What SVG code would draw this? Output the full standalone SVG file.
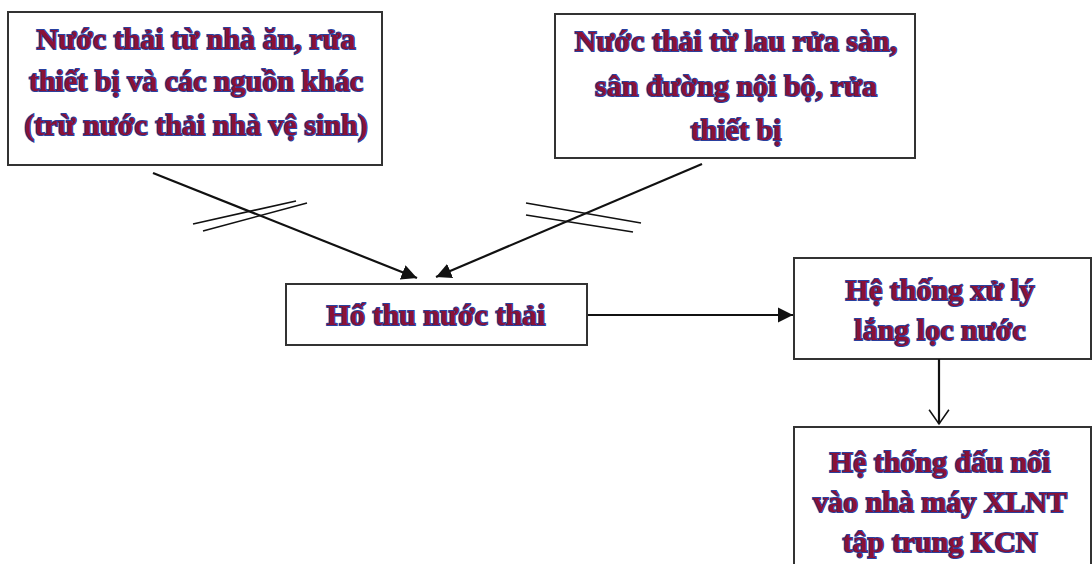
<svg xmlns="http://www.w3.org/2000/svg" width="1092" height="564" viewBox="0 0 1092 564">
<style>
.box{fill:#fff;stroke:#333;stroke-width:2}
.t{font-family:"Liberation Serif","Times New Roman",serif;font-weight:bold;font-size:30px;fill:#8a1236;stroke:#2a3f9e;stroke-width:2;paint-order:stroke;text-anchor:middle}
.c{stroke:#111;stroke-width:2.2;fill:none}
.tick{stroke:#111;stroke-width:1.6;fill:none}
</style>
<defs>
<marker id="ah" viewBox="0 0 10 10" refX="10" refY="5" markerWidth="7" markerHeight="7" orient="auto" markerUnits="strokeWidth">
<path d="M0,0 L10,5 L0,10 Z" fill="#111"/>
</marker>
<marker id="av" viewBox="0 0 10 10" refX="9" refY="5" markerWidth="10" markerHeight="10" orient="auto" markerUnits="strokeWidth">
<path d="M2.5,0.5 L9,5 L2.5,9.5" fill="none" stroke="#111" stroke-width="0.7"/>
</marker>
</defs>
<g id="n1">
<rect class="box" x="8" y="12" width="374" height="153"/>
<text class="t" x="196" y="49">Nước thải từ nhà ăn, rửa</text>
<text class="t" x="196" y="91">thiết bị và các nguồn khác</text>
<text class="t" x="196" y="135">(trừ nước thải nhà vệ sinh)</text>
</g>
<g id="n2">
<rect class="box" x="555" y="14" width="360" height="144"/>
<text class="t" x="736" y="51">Nước thải từ lau rửa sàn,</text>
<text class="t" x="736" y="96">sân đường nội bộ, rửa</text>
<text class="t" x="736" y="140">thiết bị</text>
</g>
<g id="n3">
<rect class="box" x="286" y="284" width="301" height="61"/>
<text class="t" x="436" y="325">Hố thu nước thải</text>
</g>
<g id="n4">
<rect class="box" x="794" y="258" width="297" height="101"/>
<text class="t" x="940" y="300">Hệ thống xử lý</text>
<text class="t" x="940" y="340">lắng lọc nước</text>
</g>
<g id="n5">
<rect class="box" x="794" y="427" width="297" height="140"/>
<text class="t" x="940" y="472">Hệ thống đấu nối</text>
<text class="t" x="940" y="512">vào nhà máy XLNT</text>
<text class="t" x="940" y="552">tập trung KCN</text>
</g>
<g id="connectors">
<line class="c" x1="153" y1="173" x2="417" y2="278" marker-end="url(#ah)"/>
<line class="c" x1="702" y1="164" x2="436" y2="277" marker-end="url(#ah)"/>
<line class="c" x1="588" y1="315" x2="793" y2="315" marker-end="url(#ah)"/>
<line class="c" x1="939" y1="359" x2="939" y2="424" marker-end="url(#av)"/>
<line class="tick" x1="193" y1="224" x2="296" y2="201"/>
<line class="tick" x1="203" y1="231" x2="307" y2="203"/>
<line class="tick" x1="526" y1="203" x2="641" y2="223"/>
<line class="tick" x1="526" y1="215" x2="633" y2="232"/>
</g>
</svg>
